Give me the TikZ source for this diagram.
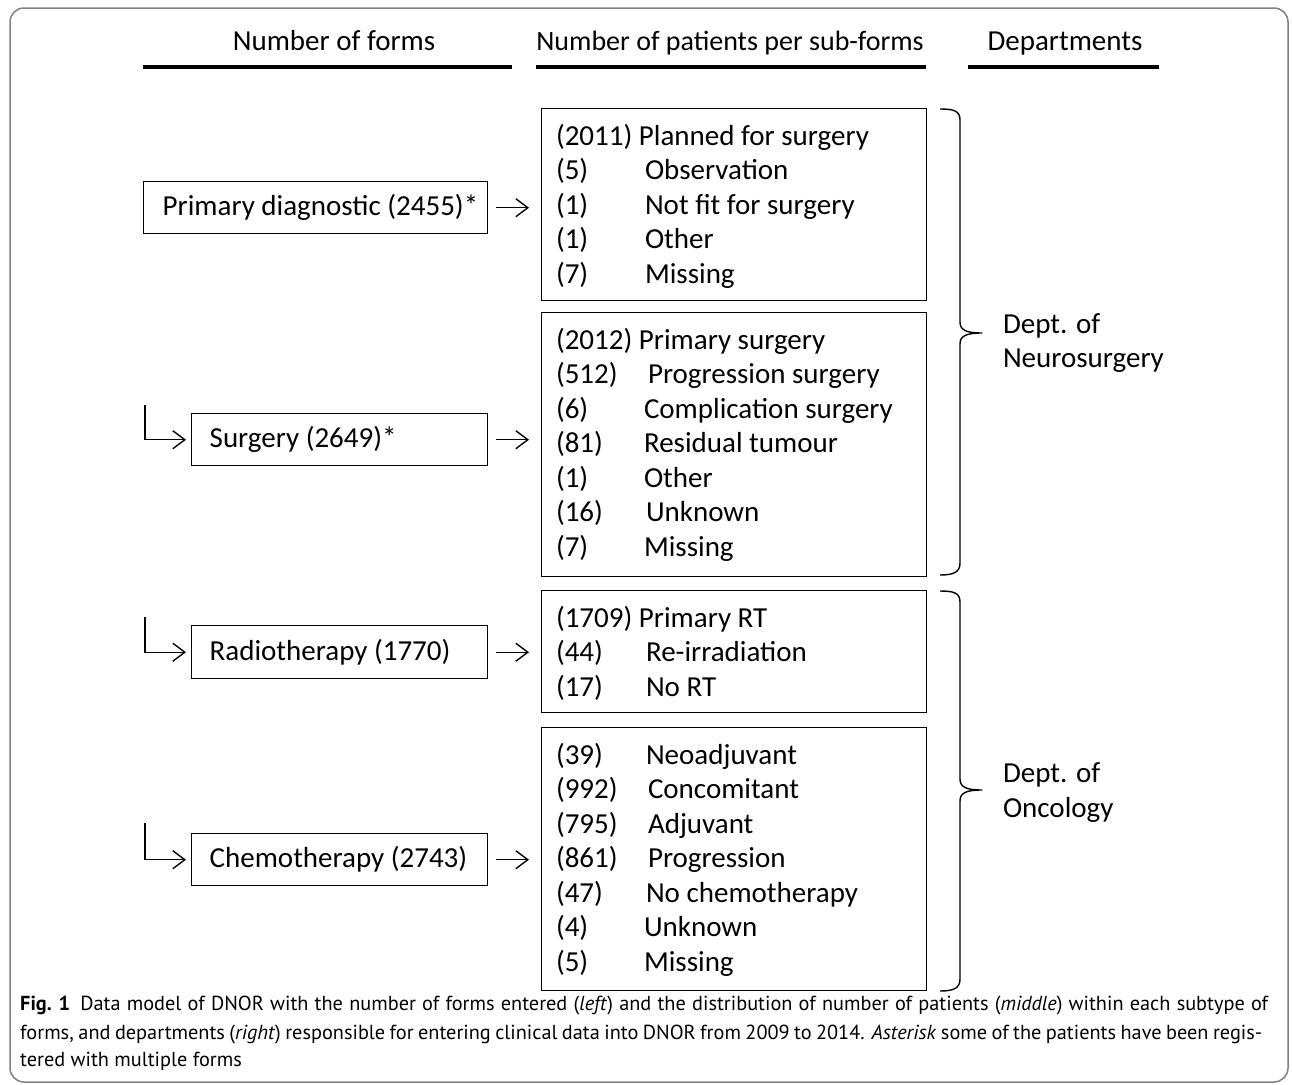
\documentclass[tikz,border=0pt]{standalone}
\usepackage{fontspec}
\setmainfont{Carlito}
\newfontfamily\capfont{PT Sans}
\usetikzlibrary{arrows.meta}
\newcommand\mainfs{\fontsize{29}{34.5}\selectfont}
\begin{document}
\begin{tikzpicture}[x=1pt,y=-1pt,
  txt/.style={font=\mainfs, inner sep=0pt, outer sep=0pt, anchor=base west},
  hdr/.style={font=\mainfs, inner sep=0pt, anchor=base},
  hline/.style={line width=3.5pt},
  formbox/.style={draw, line width=1.4pt, anchor=north west, minimum height=52pt, font=\mainfs, inner sep=0pt},
  subbox/.style={draw, line width=1.4pt, anchor=north west, minimum width=385pt, inner sep=0pt},
  arr/.style={line width=1.4pt, -{Straight Barb[length=12pt,width=18pt,line width=1.4pt]}},
  bracestyle/.style={line width=1.4pt, line join=round},
  outerframe/.style={draw=black!50, line width=1.5pt, rounded corners=14pt},
  captxt/.style={font=\capfont\fontsize{20.3}{28}\selectfont, inner sep=0pt, anchor=base west}]
\useasboundingbox (0,0) rectangle (1292,1084);
\draw[outerframe] (10,8) rectangle (1288,1082);

% headers
\node[hdr] (h1) at (334,50) {Number of forms};
\node[hdr, font=\fontsize{28}{34}\selectfont] (h2) at (730,50) {Number of patients per sub-forms};
\node[hdr] (h3) at (1065,50) {Departments};
\draw[hline] (143,67) -- (512,67);
\draw[hline] (536,67) -- (926,67);
\draw[hline] (968,67) -- (1159,67);

% left form boxes
\node[formbox] (pd) at (143,181) {\makebox[344pt][l]{\hspace{19pt}Primary diagnostic (2455)*}};
\node[formbox] (sg) at (191,413) {\makebox[296pt][l]{\hspace{18pt}Surgery (2649)*}};
\node[formbox, minimum height=53pt] (rt) at (191,625) {\makebox[296pt][l]{\hspace{18pt}Radiotherapy (1770)}};
\node[formbox] (ch) at (191,833) {\makebox[296pt][l]{\hspace{18pt}Chemotherapy (2743)}};

% right sub-form boxes
\node[subbox, minimum height=192pt] (b1) at (541,108) {};
\node[subbox, minimum height=264pt] (b2) at (541,312) {};
\node[subbox, minimum height=122pt] (b3) at (541,590) {};
\node[subbox, minimum height=263pt] (b4) at (541,727) {};

% box 1 entries
\node[txt] (a1) at (556,145) {(2011) Planned for surgery};
\node[txt] (a2n) at (556,179.5) {(5)};   \node[txt] (a2) at (645,179.5) {Observation};
\node[txt] (a3n) at (556,214) {(1)};     \node[txt] (a3) at (645,214) {Not fit for surgery};
\node[txt] (a4n) at (556,248.5) {(1)};   \node[txt] (a4) at (645,248.5) {Other};
\node[txt] (a5n) at (556,283) {(7)};     \node[txt] (a5) at (645,283) {Missing};

% box 2 entries
\node[txt] (c1) at (556,349) {(2012) Primary surgery};
\node[txt] (c2n) at (556,383.5) {(512)}; \node[txt] (c2) at (648,383.5) {Progression surgery};
\node[txt] (c3n) at (556,418) {(6)};     \node[txt] (c3) at (644,418) {Complication surgery};
\node[txt] (c4n) at (556,452.5) {(81)};  \node[txt] (c4) at (644,452.5) {Residual tumour};
\node[txt] (c5n) at (556,487) {(1)};     \node[txt] (c5) at (644,487) {Other};
\node[txt] (c6n) at (556,521.5) {(16)};  \node[txt] (c6) at (646,521.5) {Unknown};
\node[txt] (c7n) at (556,556) {(7)};     \node[txt] (c7) at (644,556) {Missing};

% box 3 entries
\node[txt] (r1) at (556,627) {(1709) Primary RT};
\node[txt] (r2n) at (556,661.5) {(44)};  \node[txt] (r2) at (646,661.5) {Re-irradiation};
\node[txt] (r3n) at (556,696) {(17)};    \node[txt] (r3) at (646,696) {No RT};

% box 4 entries
\node[txt] (k1n) at (556,764) {(39)};    \node[txt] (k1) at (646,764) {Neoadjuvant};
\node[txt] (k2n) at (556,798.5) {(992)}; \node[txt] (k2) at (648,798.5) {Concomitant};
\node[txt] (k3n) at (556,833) {(795)};   \node[txt] (k3) at (648,833) {Adjuvant};
\node[txt] (k4n) at (556,867.5) {(861)}; \node[txt] (k4) at (648,867.5) {Progression};
\node[txt] (k5n) at (556,902) {(47)};    \node[txt] (k5) at (646,902) {No chemotherapy};
\node[txt] (k6n) at (556,936.5) {(4)};   \node[txt] (k6) at (644,936.5) {Unknown};
\node[txt] (k7n) at (556,971) {(5)};     \node[txt] (k7) at (644,971) {Missing};

% arrows left -> right
\draw[arr, shorten <=8pt, shorten >=12pt] (pd.east) -- (pd.east -| b1.west);
\draw[arr, shorten <=8pt, shorten >=12pt] (sg.east) -- (sg.east -| b2.west);
\draw[arr, shorten <=8pt, shorten >=12pt] (rt.east) -- (rt.east -| b3.west);
\draw[arr, shorten <=8pt, shorten >=12pt] (ch.east) -- (ch.east -| b4.west);

% elbow arrows
\coordinate (e1) at (145,405);
\coordinate (e2) at (145,617);
\coordinate (e3) at (145,823);
\draw[arr, shorten >=5pt] (e1) |- (sg.west);
\draw[arr, shorten >=5pt] (e2) |- (rt.west);
\draw[arr, shorten >=5pt] (e3) |- (ch.west);

% braces
\draw[bracestyle] (940,109) .. controls (954,109) and (960,111) .. (960,120) -- (960,322)
  .. controls (960,330) and (966,333) .. (982,333)
  .. controls (966,333) and (960,336) .. (960,344) -- (960,563)
  .. controls (960,572) and (954,575) .. (940,575);
\draw[bracestyle] (940,591) .. controls (954,591) and (960,593) .. (960,602) -- (960,779)
  .. controls (960,787) and (966,790) .. (982,790)
  .. controls (966,790) and (960,793) .. (960,801) -- (960,979)
  .. controls (960,988) and (954,991) .. (940,991);

% department labels
\node[txt] (d1a) at (1003,333) {Dept. of};
\node[txt] (d1b) at (1003,367) {Neurosurgery};
\node[txt] (d2a) at (1003,782) {Dept. of};
\node[txt] (d2b) at (1003,817) {Oncology};

% caption
\node[captxt] (cap1) at (20,1010) {\makebox[1248pt][s]{\mbox{\textbf{Fig. 1}}\hspace{0.5em}Data model of DNOR with the number of forms entered (\textit{left}) and the distribution of number of patients (\textit{middle}) within each subtype of}};
\node[captxt] (cap2) at (20,1039) {\makebox[1242pt][s]{forms, and departments (\textit{right}) responsible for entering clinical data into DNOR from 2009 to 2014. \textit{Asterisk} some of the patients have been regis-}};
\node[captxt] (cap3) at (20,1066) {tered with multiple forms};
\end{tikzpicture}
\end{document}
